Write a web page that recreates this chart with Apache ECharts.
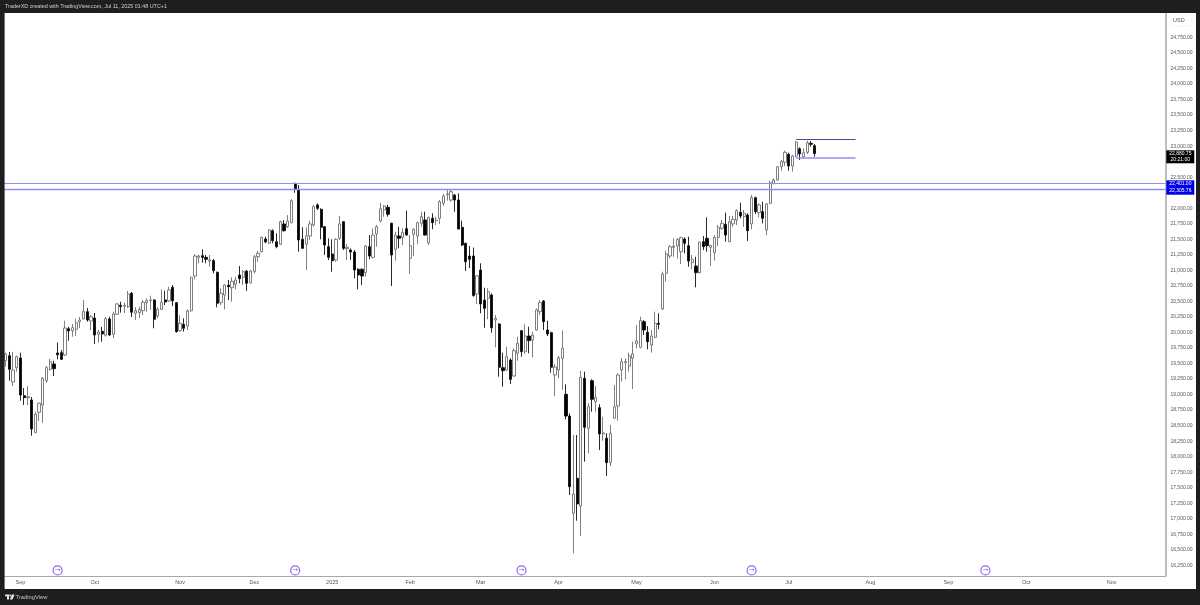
<!DOCTYPE html>
<html><head><meta charset="utf-8">
<style>html,body{margin:0;padding:0;background:#1e1e1e;overflow:hidden}#c{width:1200px;height:605px;filter:blur(0.3px)}</style>
<script src="https://cdn.jsdelivr.net/npm/echarts@6/dist/echarts.min.js"></script>
</head><body><div id="c"></div>
<script>
const opens = [19546,19626,19203,19433,19589,18982,18950,18913,18387,18715,
18832,19224,19407,19493,19670,19675,19637,20061,20029,20051,
20174,20217,20335,20185,20233,19971,20019,19955,20217,19971,
20293,20438,20422,20415,20631,20309,20319,20351,20480,20512,
20523,20265,20373,20523,20507,20727,20480,20029,20132,20104,
20351,20909,21210,21236,21210,21151,21156,20969,20480,20603,
20760,20721,20776,20925,20888,20990,20797,20979,21220,21301,
21505,21436,21639,21462,21420,21747,21703,21768,22402,22294,
21500,21420,21553,21731,22053,21983,21703,21381,21264,21167,
21516,21784,21349,21328,21296,21017,21017,20963,21381,21210,
21586,21795,21972,22015,21758,21339,21553,21532,21671,21194,
21581,21553,21758,21811,21446,21838,21800,21838,22080,22218,
22133,22213,22133,21693,21436,21231,21231,20620,21006,20523,
20550,20603,20201,20137,19433,19396,19557,19299,19665,20029,
19691,19943,19879,20040,20335,20507,20040,19997,19315,19396,
19584,19005,18655,17089,17652,17206,19262,18457,19224,18886,
18789,18366,18296,17904,18618,18816,19396,19514,19460,19584,
19815,19761,20174,20003,19798,19923,20148,20378,20953,21231,
21371,21392,21301,21505,21397,21124,21070,20963,21462,21516,
21371,21285,21532,21677,21742,21462,21747,21811,21935,21864,
21891,21747,22170,21929,21945,21650,22080,22402,22455,22669,
22740,22869,22680,22841,22959,22830,22901,23046,23007];
const closes = [19654,19407,19396,19610,18993,18950,18966,18446,18688,18860,
19267,19433,19530,19417,19642,19568,20072,20024,20077,20158,
20201,20335,20201,20254,19959,20008,19976,20222,19959,20298,
20459,20415,20438,20620,20325,20351,20373,20486,20512,20523,
20212,20373,20486,20491,20684,20512,20013,20148,20067,20346,
20888,21231,21231,21210,21178,21167,20995,20470,20631,20764,
20737,20824,20845,20866,20979,20792,20990,21220,21275,21532,
21457,21650,21478,21381,21784,21639,21795,22122,22305,21489,
21355,21558,21747,22025,21999,21693,21408,21210,21156,21500,
21747,21355,21371,21296,21006,20925,20909,21392,21231,21569,
21703,21993,22036,21903,21247,21569,21516,21613,21569,21397,
21661,21768,21864,21569,21854,21768,21811,22106,22197,22230,
22267,22133,21666,21408,21140,21178,20595,20914,20459,20389,
20657,20077,20228,19440,19385,19610,19246,19707,19826,19691,
19943,19868,19959,20362,20480,20174,19976,19440,19444,19594,
19745,18655,17517,17400,17239,19278,18473,18805,18924,18956,
18366,18382,17904,18377,18805,19315,19530,19530,19621,19654,
19863,20190,20040,19852,19943,20148,20132,20942,21264,21381,
21392,21500,21526,21436,21151,21178,20963,21457,21381,21397,
21403,21532,21693,21758,21569,21784,21822,21961,21875,21919,
21639,22170,21945,22053,21838,22069,22412,22455,22669,22750,
22901,22680,22841,23062,22874,22895,23055,23030,22880.75];
const highs = [19675,19686,19686,19626,19675,19106,19138,18961,18725,18870,
19283,19460,19573,19546,19836,19718,20190,20093,20137,20217,
20249,20523,20394,20281,20314,20040,20088,20249,20254,20335,
20475,20496,20480,20668,20652,20410,20415,20523,20550,20592,
20534,20405,20695,20673,20737,20764,20490,20281,20228,20373,
20898,21259,21247,21339,21247,21247,21183,20980,20711,20775,
20845,20888,20898,21070,21006,21006,21006,21247,21317,21542,
21542,21661,21661,21597,21800,21811,21891,22144,22412,22374,
21693,21693,21800,22053,22080,21999,21715,21516,21500,21516,
21875,21795,21425,21355,21328,21033,21033,21408,21569,21677,
21731,22090,22053,22053,21768,21623,21703,21677,21961,21569,
21677,21784,21945,21945,21864,21919,21864,22133,22230,22305,
22294,22230,22241,21800,21445,21392,21368,20925,21114,20721,
20711,20631,20281,20148,19675,19771,19584,19745,19932,20040,
20132,20093,20013,20389,20523,20523,20190,20013,19493,19626,
20032,19166,18699,18349,18349,19380,19369,18860,19246,19138,
18844,18644,18377,18510,19154,19343,19584,19584,19675,19852,
20120,20254,20201,20104,20040,20335,20309,20979,21317,21408,
21516,21516,21542,21532,21542,21247,21220,21462,21553,21854,
21408,21569,21731,21811,21929,21875,21875,21983,22090,21972,
21919,22213,22186,22080,22106,22080,22444,22482,22680,22777,
22927,22895,22857,23088,22981,22965,23088,23083,23035];
const lows = [19449,19224,19138,19369,18902,18832,18832,18338,18382,18575,
18543,19187,19385,19299,19568,19557,19621,19868,19932,19943,
20072,20217,20174,20040,19815,19836,19852,19932,19943,19906,
20281,20319,20314,20394,20249,20201,20233,20281,20335,20362,
20067,20228,20362,20442,20496,20426,19997,20013,20013,20040,
20335,20856,21114,21124,21114,21059,20953,20405,20442,20373,
20523,20496,20695,20792,20764,20668,20790,20953,21140,21285,
21436,21425,21436,21355,21408,21623,21682,21758,22251,21301,
21345,21006,21489,21703,21972,21500,21247,21167,20979,21140,
21489,21328,21167,21167,20872,20695,20764,20898,21178,21194,
21381,21768,21864,21864,20748,21156,21355,21408,21560,20942,
21231,21425,21703,21560,21408,21661,21731,21747,22036,22122,
22106,21945,21661,21392,20990,21038,20576,20459,20309,20077,
20212,19997,19761,19288,19127,19385,19171,19288,19546,19610,
19654,19665,19600,20030,20281,20040,19943,19353,18977,19262,
19074,18602,17383,16445,16970,16723,17920,18055,18725,18725,
18108,18258,17689,17850,18610,18580,19208,19246,19369,19090,
19745,19745,19959,19729,19675,19906,20051,20362,20818,21194,
21220,21194,21103,21275,21059,21017,20727,20953,21328,21301,
21070,21156,21392,21650,21462,21455,21703,21731,21838,21703,
21473,21661,21908,21854,21758,21569,22069,22386,22444,22605,
22680,22605,22589,22820,22777,22804,22874,22991,22830];

const monthLabels = ['Sep','Oct','Nov','Dec','2025','Feb','Mar','Apr','May','Jun','Jul','Aug','Sep','Oct','Nov'];
const monthIndex  = [4,24,47,67,88,109,128,149,170,191,211,233,254,275,298];
const slotCount = 313;
const priceTicks = [16250,16500,16750,17000,17250,17500,17750,18000,18250,18500,18750,19000,19250,19500,19750,20000,20250,20500,20750,21000,21250,21500,21750,22000,22500,23000,23250,23500,23750,24000,24250,24500,24750];
const levelUpper = 22401.00;
const levelLower = 22305.76;
const boxHigh = 23107;
const boxLow = 22810;
const boxFrom = 213, boxTo = 229;
const eventIndex = [14,78,139,201,264];
const eventPrice = 16168;

const categories = Array.from({length:slotCount},(_,i)=>{const k=monthIndex.indexOf(i);return k>=0?monthLabels[k]:'';});
const candles = opens.map((o,i)=>[o,closes[i],lows[i],highs[i]]);
const fmt = v => v.toLocaleString('en-US',{minimumFractionDigits:2,maximumFractionDigits:2});
const FONT = '"Liberation Sans",sans-serif';
const DARK = '#1e1e1e';
const LAV = '#8f8ff0';
const txt = (x,y,t,fill,size,align) => ({type:'text',z:30,style:{x,y,text:t,fill,font:size+'px '+FONT,textAlign:align||'left',textVerticalAlign:'middle'}});
const box = (x,y,w,h,fill,z) => ({type:'rect',z:z||20,shape:{x,y,width:w,height:h},style:{fill}});

const chart = echarts.init(document.getElementById('c'),null,{renderer:'canvas'});
chart.setOption({
  animation:false,
  backgroundColor:'#ffffff',
  grid:{left:3.8,right:34.6,top:13,bottom:29,show:false},
  xAxis:{type:'category',data:categories,boundaryGap:true,
    axisLine:{show:true,lineStyle:{color:'#a8a8a8',width:1}},
    axisTick:{show:false},splitLine:{show:false},
    axisLabel:{interval:0,color:'#555',fontSize:5.5,fontFamily:FONT,margin:3.5,hideOverlap:false}},
  yAxis:{type:'value',position:'right',min:16079,max:25144,
    axisLine:{show:true,lineStyle:{color:'#a8a8a8',width:1.5}},
    axisTick:{show:false},splitLine:{show:false},
    axisLabel:{customValues:priceTicks,color:'#555',fontSize:5,fontFamily:FONT,margin:5,formatter:fmt}},
  series:[
    {type:'candlestick',data:candles,barWidth:2.7,clip:true,
     itemStyle:{color:'#ffffff',color0:'#000000',borderColor:'#707070',borderColor0:'#111111',borderWidth:0.9},
     markLine:{silent:true,symbol:'none',animation:false,label:{show:false},
       data:[
        {yAxis:levelUpper,lineStyle:{color:LAV,width:1.1,type:'solid'}},
        {yAxis:levelLower,lineStyle:{color:LAV,width:1.4,type:'solid'}},
        [{coord:[boxFrom,boxHigh],lineStyle:{color:'#2b3a8f',width:0.9,type:'solid'}},{coord:[boxTo,boxHigh]}],
        [{coord:[boxFrom,boxLow],lineStyle:{color:LAV,width:1.5,type:'solid'}},{coord:[boxTo,boxLow]}]
       ]}
    },
    {type:'scatter',data:eventIndex.map(i=>[i,eventPrice]),symbol:'circle',symbolSize:9,z:5,
     itemStyle:{color:'#fff',borderColor:'#7a3fe0',borderWidth:1.2},
     label:{show:true,position:'inside',formatter:'→',color:'#7a3fe0',fontSize:7,fontFamily:'DejaVu Sans'}}
  ],
  graphic:[
    box(0,0,1200,13,DARK), box(0,13,4.6,576,DARK), box(1196,13,4,576,DARK), box(0,589,1200,16,DARK),
    txt(5,6.5,'TraderXD created with TradingView.com, Jul 11, 2025 01:48 UTC+1','#d0d0d0',5.4),
    {type:'polygon',z:30,shape:{points:[[5,594.5],[9,594.5],[9,599.5],[7,599.5],[7,596.3],[5,596.3]]},style:{fill:'#e8e8e8'}},
    {type:'circle',z:30,shape:{cx:10.2,cy:595.4,r:0.95},style:{fill:'#e8e8e8'}},
    {type:'polygon',z:30,shape:{points:[[12,594.5],[14.6,594.5],[12.4,599.5],[9.8,599.5]]},style:{fill:'#e8e8e8'}},
    txt(15.5,597.2,'TradingView','#c8c8c8',5.8),
    {type:'rect',z:25,shape:{x:1170,y:15,width:22,height:11,r:2},style:{fill:'#fff',stroke:'#efefef',lineWidth:0.6}},
    txt(1173,20.5,'USD','#555',5.5),
    box(1166.3,150.3,28,13,'#000000',25),
    txt(1180.3,154,fmt(22880.75),'#ffffff',5,'center'),
    txt(1180.3,160,'20:21:00','#ffffff',5,'center'),
    box(1166.3,180.3,28,14.4,'#0000e6',25),
    txt(1180.3,184,fmt(levelUpper),'#ffffff',5,'center'),
    txt(1180.3,191,fmt(levelLower),'#ffffff',5,'center')
  ]
});
</script></body></html>
